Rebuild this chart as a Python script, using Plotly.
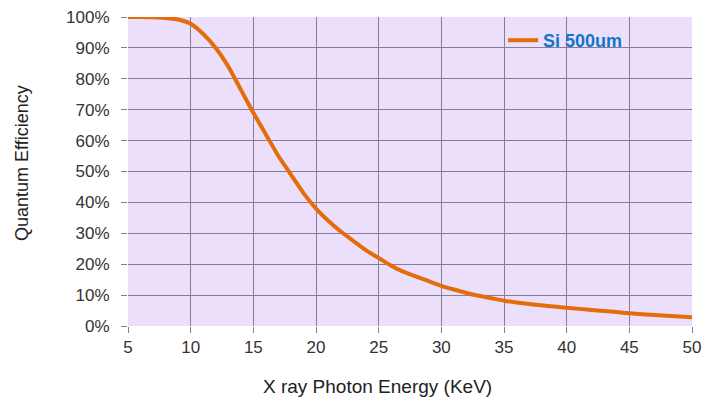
import plotly.graph_objects as go

energy = [5, 6, 7, 8, 9, 10, 11, 12, 13, 14, 15, 16, 17, 18, 19, 20, 21, 22, 23, 24, 25,
          26, 27, 28, 29, 30, 31, 32, 33, 34, 35, 36, 37, 38, 39, 40, 42, 44, 45, 46, 48, 50]
qe = [100, 100, 99.9, 99.7, 99.2, 97.8, 94.5, 90, 84, 76.5, 69, 62, 55, 49, 43, 38, 34, 30.5,
      27.5, 24.5, 22, 19.5, 17.5, 16, 14.5, 13, 11.8, 10.7, 9.8, 9, 8.2, 7.6, 7.1, 6.7, 6.3,
      5.9, 5.2, 4.5, 4.1, 3.8, 3.3, 2.8]
x_ticks = [5, 10, 15, 20, 25, 30, 35, 40, 45, 50]
y_ticks = [0, 10, 20, 30, 40, 50, 60, 70, 80, 90, 100]
y_labels = [f"{v}%" for v in y_ticks]
x_title = "X ray Photon Energy (KeV)"
y_title = "Quantum Efficiency"

font = "Liberation Sans, Arial, sans-serif"
grid = "#847d94"

fig = go.Figure()
fig.add_trace(go.Scatter(
    x=energy, y=qe, mode="lines", name="Si 500um",
    line=dict(color="#E46C0A", width=4, shape="spline", smoothing=0.6),
))

fig.update_layout(
    width=721, height=405,
    margin=dict(l=128, r=29, t=17, b=79),
    paper_bgcolor="white",
    plot_bgcolor="#ECDFFB",
    showlegend=True,
    legend=dict(x=0.665, y=0.924, xanchor="left", yanchor="middle",
                bgcolor="rgba(0,0,0,0)",
                font=dict(family=font, size=18, color="#1474CC", weight="bold")),
    xaxis=dict(
        range=[5, 50], tickvals=x_ticks, ticktext=[str(v) for v in x_ticks],
        showgrid=True, gridcolor=grid, gridwidth=1,
        ticks="outside", ticklen=6, tickcolor=grid,
        showline=False, zeroline=False,
        tickfont=dict(family=font, size=17, color="#333333"),
    ),
    yaxis=dict(
        range=[0, 100], tickvals=y_ticks, ticktext=y_labels,
        showgrid=True, gridcolor=grid, gridwidth=1,
        ticks="outside", ticklen=6, tickcolor=grid,
        showline=False, zeroline=False,
        ticklabelstandoff=8,
        tickfont=dict(family=font, size=17, color="#333333"),
    ),
    annotations=[
        dict(text=x_title, xref="paper", yref="paper", x=0.443, y=-0.197,
             xanchor="center", yanchor="middle", showarrow=False,
             font=dict(family=font, size=19, color="#222222")),
        dict(text=y_title, xref="paper", yref="paper", x=-0.187, y=0.526,
             xanchor="center", yanchor="middle", showarrow=False, textangle=-90,
             font=dict(family=font, size=18, color="#222222")),
    ],
)
fig.update_xaxes(automargin=False)
fig.update_yaxes(automargin=False)

fig.write_html("out.html", config={"displayModeBar": False},
               post_script="document.body.style.margin='0';")
